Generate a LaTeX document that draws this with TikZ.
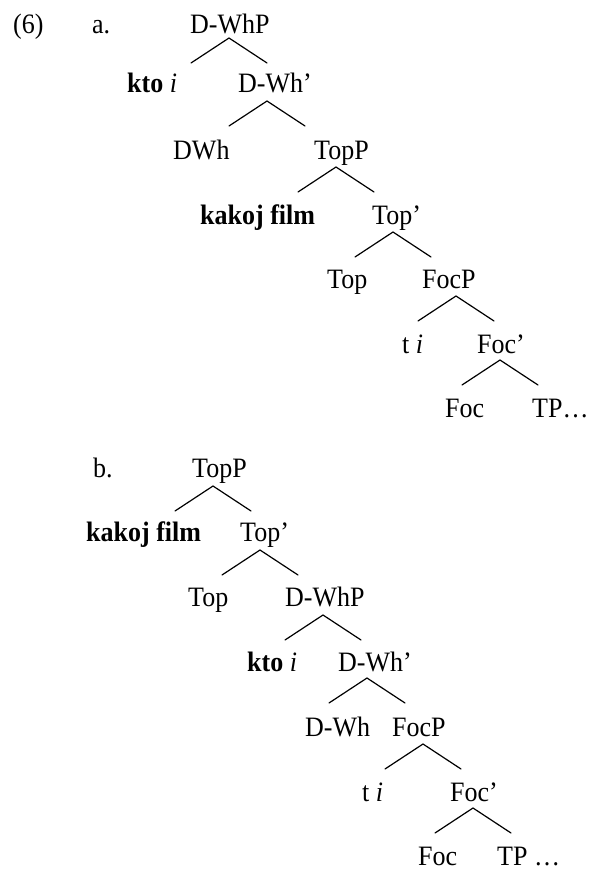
\documentclass[tikz,border=0pt]{standalone}
\usepackage{fontspec}
\usepackage{graphicx}
\setmainfont{Liberation Serif}
\usetikzlibrary{calc}
% labels are set slightly taller than wide
\newcommand\tx[1]{\scalebox{1}[1.08]{#1}}
\begin{document}
\begin{tikzpicture}[x=1pt,y=-1pt,
  lbl/.style={anchor=base west,inner sep=0pt,font=\fontsize{26}{30}\selectfont},
  branch/.style={line width=1.2pt,line cap=round}]
\useasboundingbox (0,0) rectangle (589,870);

% ---------- tree (a) ----------
\node[lbl] (n6)   at (13,33)  {\tx{(6)}};
\node[lbl] (la)   at (92,33)  {\tx{a.}};
\node[lbl] (aDWhP) at (190,33) {\tx{D-WhP}};
\node[lbl] (akto)  at (127,92) {\tx{\textbf{kto} \textit{i}}};
\node[lbl] (aDWhb) at (238,92) {\tx{D-Wh’}};
\node[lbl] (aDWh)  at (173,159) {\tx{DWh}};
\node[lbl] (aTopP) at (314,159) {\tx{TopP}};
\node[lbl] (afilm) at (200,224) {\tx{\textbf{kakoj film}}};
\node[lbl] (aTopb) at (372,224) {\tx{Top’}};
\node[lbl] (aTop)  at (327,288) {\tx{Top}};
\node[lbl] (aFocP) at (422,288) {\tx{FocP}};
\node[lbl] (at)    at (402,353) {\tx{t \textit{i}}};
\node[lbl] (aFocb) at (477,353) {\tx{Foc’}};
\node[lbl] (aFoc)  at (445,417) {\tx{Foc}};
\node[lbl] (aTP)   at (532,417) {\tx{TP…}};

\coordinate (ra1) at (229,38);
\coordinate (ra2) at (267,101);
\coordinate (ra3) at (336,167);
\coordinate (ra4) at (393,232);
\coordinate (ra5) at (456,296);
\coordinate (ra6) at (500,360);
\foreach \r in {ra1,ra2,ra3,ra4,ra5,ra6}
  \draw[branch] ($(\r)+(-38,25)$) -- (\r) -- ($(\r)+(38,25)$);

% ---------- tree (b) ----------
\node[lbl] (lb)    at (93,477)  {\tx{b.}};
\node[lbl] (bTopP) at (192,477) {\tx{TopP}};
\node[lbl] (bfilm) at (86,541)  {\tx{\textbf{kakoj film}}};
\node[lbl] (bTopb) at (240,541) {\tx{Top’}};
\node[lbl] (bTop)  at (188,606) {\tx{Top}};
\node[lbl] (bDWhP) at (285,606) {\tx{D-WhP}};
\node[lbl] (bkto)  at (247,671) {\tx{\textbf{kto} \textit{i}}};
\node[lbl] (bDWhb) at (338,671) {\tx{D-Wh’}};
\node[lbl] (bDWh)  at (305,736) {\tx{D-Wh}};
\node[lbl] (bFocP) at (392,736) {\tx{FocP}};
\node[lbl] (bt)    at (362,801) {\tx{t \textit{i}}};
\node[lbl] (bFocb) at (450,801) {\tx{Foc’}};
\node[lbl] (bFoc)  at (418,865) {\tx{Foc}};
\node[lbl] (bTP)   at (497,865) {\tx{TP …}};

\coordinate (rb1) at (213,486);
\coordinate (rb2) at (260,550);
\coordinate (rb3) at (323,615);
\coordinate (rb4) at (367,678);
\coordinate (rb5) at (423,744);
\coordinate (rb6) at (473,808);
\foreach \r in {rb1,rb2,rb3,rb4,rb5,rb6}
  \draw[branch] ($(\r)+(-38,25)$) -- (\r) -- ($(\r)+(38,25)$);
\end{tikzpicture}
\end{document}
